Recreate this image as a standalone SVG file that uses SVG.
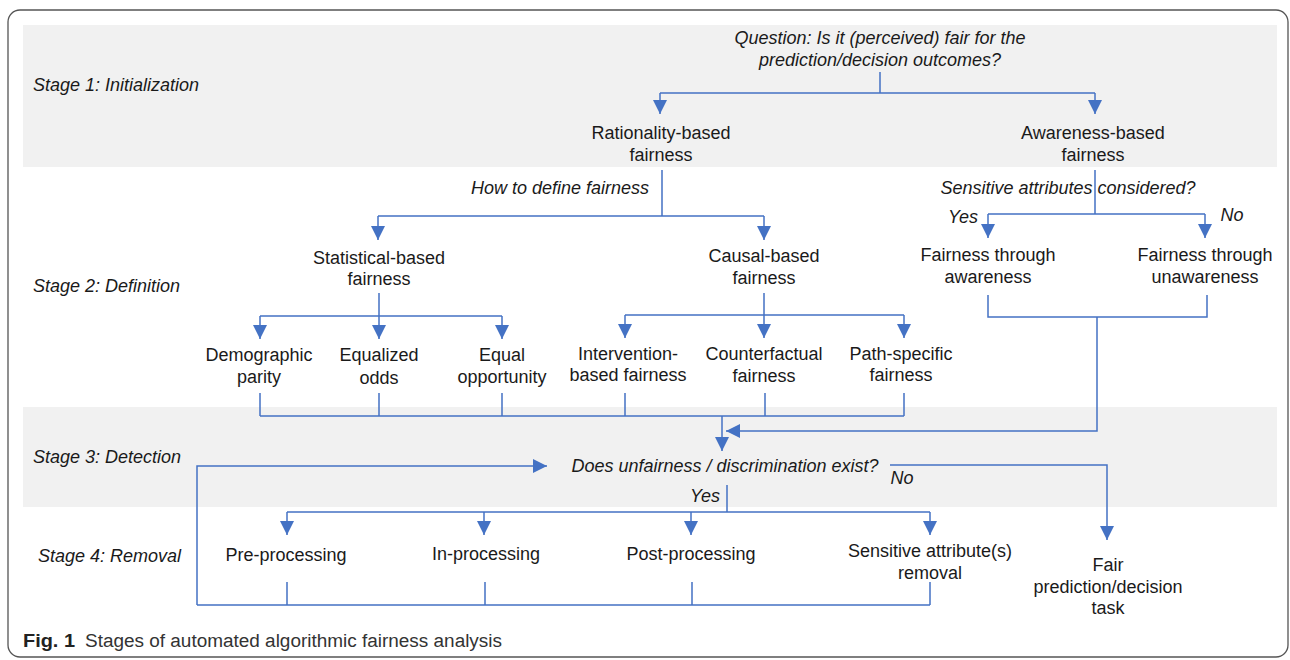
<svg xmlns="http://www.w3.org/2000/svg" width="1290" height="660" viewBox="0 0 1290 660">
<style>
.t{font-family:"Liberation Sans",Arial,sans-serif;font-size:18px;fill:#1a1a1a;text-anchor:middle}
.i{font-style:italic}
.s{text-anchor:start}
.c{stroke:#4472c4;stroke-width:1.5;fill:none}
.band{fill:#f1f1f1}
.cap{font-family:"Liberation Sans",Arial,sans-serif;font-size:18px;fill:#333}
</style>
<defs>
<marker id="ah" markerUnits="userSpaceOnUse" markerWidth="14" markerHeight="14" refX="12" refY="6" orient="auto" viewBox="0 0 12 12">
<path d="M0,0 L12,6 L0,12 z" fill="#4472c4"/>
</marker>
</defs>
<rect width="1290" height="660" fill="#ffffff"/>
<rect x="8" y="10" width="1280" height="647" rx="12" ry="12" fill="none" stroke="#555" stroke-width="1.3"/>
<rect class="band" x="23" y="25" width="1254" height="142"/>
<rect class="band" x="23" y="407" width="1254" height="100"/>

<g id="stage-labels">
<text class="t i s" x="33" y="91">Stage 1: Initialization</text>
<text class="t i s" x="33" y="292">Stage 2: Definition</text>
<text class="t i s" x="33" y="463">Stage 3: Detection</text>
<text class="t i s" x="38" y="562">Stage 4: Removal</text>
</g>

<g id="connectors">
<path class="c" d="M880,72 V93 M660,93 H1095"/>
<path class="c" d="M660,93 V114" marker-end="url(#ah)"/>
<path class="c" d="M1095,93 V114" marker-end="url(#ah)"/>
<path class="c" d="M662,170 V216 M378,216 H764"/>
<path class="c" d="M378,216 V240" marker-end="url(#ah)"/>
<path class="c" d="M764,216 V240" marker-end="url(#ah)"/>
<path class="c" d="M379,293 V316 M260,316 H502"/>
<path class="c" d="M260,316 V339" marker-end="url(#ah)"/>
<path class="c" d="M379,316 V339" marker-end="url(#ah)"/>
<path class="c" d="M502,316 V339" marker-end="url(#ah)"/>
<path class="c" d="M764,293 V315 M625,315 H904"/>
<path class="c" d="M625,315 V338" marker-end="url(#ah)"/>
<path class="c" d="M764,315 V338" marker-end="url(#ah)"/>
<path class="c" d="M904,315 V338" marker-end="url(#ah)"/>
<path class="c" d="M260,393 V416 M379,393 V416 M502,393 V416 M625,393 V416 M765,393 V416 M904,393 V416 M260,416 H904"/>
<path class="c" d="M722,416 V451" marker-end="url(#ah)"/>
<path class="c" d="M1095,170 V214 M988,214 H1205"/>
<path class="c" d="M988,214 V238" marker-end="url(#ah)"/>
<path class="c" d="M1205,214 V238" marker-end="url(#ah)"/>
<path class="c" d="M988,295 V317 H1207 V295"/>
<path class="c" d="M1097,317 V431 H726" marker-end="url(#ah)"/>
<path class="c" d="M197,605 V466 H547" marker-end="url(#ah)"/>
<path class="c" d="M890,465 H1107 V540" marker-end="url(#ah)"/>
<path class="c" d="M727,485 V512 M287,512 H930"/>
<path class="c" d="M287,512 V535" marker-end="url(#ah)"/>
<path class="c" d="M484,512 V535" marker-end="url(#ah)"/>
<path class="c" d="M691,512 V535" marker-end="url(#ah)"/>
<path class="c" d="M930,512 V535" marker-end="url(#ah)"/>
<path class="c" d="M287,582 V605 M485,582 V605 M692,582 V605 M930,582 V605 M197,605 H930"/>
</g>

<g id="question"><text class="t i" x="880" y="44">Question: Is it (perceived) fair for the</text><text class="t i" x="880" y="66">prediction/decision outcomes?</text></g>
<g id="rationality"><text class="t" x="661" y="139">Rationality-based</text><text class="t" x="661" y="161">fairness</text></g>
<g id="awareness"><text class="t" x="1093" y="139">Awareness-based</text><text class="t" x="1093" y="161">fairness</text></g>
<g id="how-label"><text class="t i" x="560" y="194">How to define fairness</text></g>
<g id="sens-label"><text class="t i" x="1068" y="194">Sensitive attributes considered?</text></g>
<g id="yes1"><text class="t i" x="963" y="223">Yes</text></g>
<g id="no1"><text class="t i" x="1232" y="221">No</text></g>
<g id="statistical"><text class="t" x="379" y="264">Statistical-based</text><text class="t" x="379" y="285">fairness</text></g>
<g id="causal"><text class="t" x="764" y="262">Causal-based</text><text class="t" x="764" y="284">fairness</text></g>
<g id="ft-awareness"><text class="t" x="988" y="261">Fairness through</text><text class="t" x="988" y="283">awareness</text></g>
<g id="ft-unawareness"><text class="t" x="1205" y="261">Fairness through</text><text class="t" x="1205" y="283">unawareness</text></g>
<g id="demographic"><text class="t" x="259" y="361">Demographic</text><text class="t" x="259" y="383">parity</text></g>
<g id="equalized"><text class="t" x="379" y="361">Equalized</text><text class="t" x="379" y="384">odds</text></g>
<g id="equal-opp"><text class="t" x="502" y="361">Equal</text><text class="t" x="502" y="383">opportunity</text></g>
<g id="intervention"><text class="t" x="628" y="360">Intervention-</text><text class="t" x="628" y="381">based fairness</text></g>
<g id="counterfactual"><text class="t" x="764" y="360">Counterfactual</text><text class="t" x="764" y="382">fairness</text></g>
<g id="path-specific"><text class="t" x="901" y="360">Path-specific</text><text class="t" x="901" y="381">fairness</text></g>
<g id="detection"><text class="t i" x="725" y="472">Does unfairness / discrimination exist?</text></g>
<g id="no2"><text class="t i" x="902" y="484">No</text></g>
<g id="yes2"><text class="t i" x="705" y="502">Yes</text></g>
<g id="pre"><text class="t" x="286" y="561">Pre-processing</text></g>
<g id="in"><text class="t" x="486" y="560">In-processing</text></g>
<g id="post"><text class="t" x="691" y="560">Post-processing</text></g>
<g id="sens-removal"><text class="t" x="930" y="557">Sensitive attribute(s)</text><text class="t" x="930" y="579">removal</text></g>
<g id="fair-task"><text class="t" x="1108" y="571">Fair</text><text class="t" x="1108" y="593">prediction/decision</text><text class="t" x="1108" y="614">task</text></g>

<g id="caption"><text class="cap" x="23" y="647"><tspan font-weight="bold" fill="#222" textLength="52" lengthAdjust="spacingAndGlyphs">Fig. 1</tspan><tspan x="85" textLength="417" lengthAdjust="spacingAndGlyphs">Stages of automated algorithmic fairness analysis</tspan></text></g>
</svg>
